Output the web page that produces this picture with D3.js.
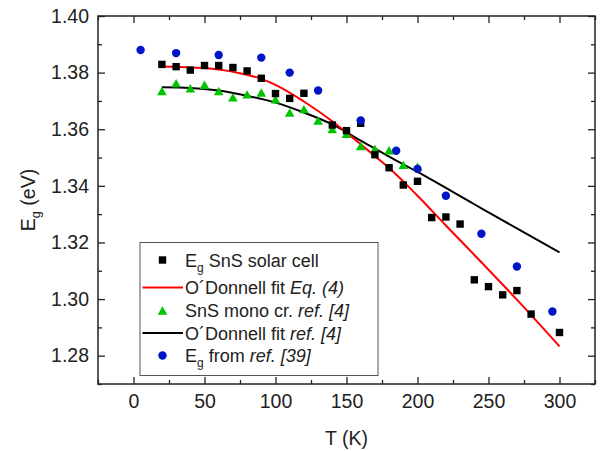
<!DOCTYPE html>
<html>
<head>
<meta charset="utf-8">
<script src="https://cdn.jsdelivr.net/npm/d3@7"></script>
<style>
  html, body { margin: 0; padding: 0; background: #fff; }
  svg { display: block; font-family: Arial, "Liberation Sans", sans-serif; }
</style>
</head>
<body>
<svg id="chart" width="600" height="451"></svg>
<script>
// Band gap of SnS versus temperature

// Solar cell measurement (black squares)
const cellT = [20, 30, 40, 50, 60, 70, 80, 90, 100, 110, 120, 140, 150, 160, 170, 180, 190, 200, 210, 220, 230, 240, 250, 260, 270, 280, 300];
const cellE = [1.3829, 1.3821, 1.3809, 1.3825, 1.3825, 1.3818, 1.3806, 1.3780, 1.3726, 1.3709, 1.3727, 1.3615, 1.3595, 1.3621, 1.3510, 1.3464, 1.3403, 1.3416, 1.3288, 1.3290, 1.3265, 1.3068, 1.3044, 1.3015, 1.3030, 1.2947, 1.2882];

// O'Donnell fit of the solar cell data, Eq. (4)
const fitCellT = [20, 40, 60, 75, 90, 100, 120, 140, 150, 160, 170, 180, 200, 220, 245, 270, 300];
const fitCellE = [1.3822, 1.3818, 1.3811, 1.3798, 1.3778, 1.3757, 1.3698, 1.3628, 1.3588, 1.3547, 1.3505, 1.3463, 1.3365, 1.3260, 1.3130, 1.2998, 1.2833];

// SnS mono crystal, ref. [4] (green triangles)
const monoT = [20, 30, 40, 50, 60, 70, 80, 90, 100, 110, 120, 130, 140, 150, 160, 170, 180, 190, 200];
const monoE = [1.3735, 1.3763, 1.3745, 1.3757, 1.3735, 1.3713, 1.3723, 1.3730, 1.3706, 1.3659, 1.3671, 1.3631, 1.3601, 1.3584, 1.3541, 1.3530, 1.3526, 1.3474, 1.3468];

// O'Donnell fit from ref. [4]
const fitMonoT = [20, 40, 60, 80, 100, 120, 140, 160, 180, 200, 240, 260, 300];
const fitMonoE = [1.3748, 1.3746, 1.3737, 1.3718, 1.3694, 1.3659, 1.3617, 1.3560, 1.3503, 1.3449, 1.3335, 1.3278, 1.3165];

// Band gap from ref. [39] (blue circles)
const ref39T = [5, 30, 60, 90, 110, 130, 160, 185, 200, 220, 245, 270, 295];
const ref39E = [1.3880, 1.3869, 1.3862, 1.3853, 1.3800, 1.3737, 1.3631, 1.3524, 1.3460, 1.3365, 1.3231, 1.3115, 1.2956];

const xTicks = [0, 50, 100, 150, 200, 250, 300];
const xMinor = [-25, 25, 75, 125, 175, 225, 275, 325];
const yTicks = [1.28, 1.30, 1.32, 1.34, 1.36, 1.38, 1.40];
const yMinor = [1.27, 1.29, 1.31, 1.33, 1.35, 1.37, 1.39];

const svg = d3.select("#chart");
const plotLeft = 98, plotRight = 595, plotTop = 16, plotBottom = 384;

const x = d3.scaleLinear().domain([-25, 325]).range([plotLeft, plotRight]);
const y = d3.scaleLinear().domain([1.27, 1.40]).range([plotBottom, plotTop]);

const ink = "#222";
const fontSize = 19.5;

// Axes: ticks point inward on all four sides
function styleAxis(g) {
  g.select(".domain").remove();
  g.selectAll(".tick line").attr("stroke", ink).attr("stroke-width", 1.3);
  g.selectAll(".tick text").attr("fill", ink).attr("font-size", fontSize).attr("font-family", "Arial, 'Liberation Sans', sans-serif");
}

svg.append("g").attr("transform", `translate(0,${plotBottom})`)
  .call(d3.axisBottom(x).tickValues(xTicks).tickFormat(d3.format("d")).tickSize(-7).tickPadding(10))
  .call(styleAxis);
svg.append("g").attr("transform", `translate(0,${plotBottom})`)
  .call(d3.axisBottom(x).tickValues(xMinor).tickFormat("").tickSize(-4))
  .call(styleAxis);
svg.append("g").attr("transform", `translate(0,${plotTop})`)
  .call(d3.axisTop(x).tickValues(xTicks).tickFormat("").tickSize(-7))
  .call(styleAxis);
svg.append("g").attr("transform", `translate(0,${plotTop})`)
  .call(d3.axisTop(x).tickValues(xMinor).tickFormat("").tickSize(-4))
  .call(styleAxis);

svg.append("g").attr("transform", `translate(${plotLeft},0)`)
  .call(d3.axisLeft(y).tickValues(yTicks).tickFormat(d3.format(".2f")).tickSize(-7).tickPadding(9))
  .call(styleAxis);
svg.append("g").attr("transform", `translate(${plotLeft},0)`)
  .call(d3.axisLeft(y).tickValues(yMinor).tickFormat("").tickSize(-4))
  .call(styleAxis);
svg.append("g").attr("transform", `translate(${plotRight},0)`)
  .call(d3.axisRight(y).tickValues(yTicks).tickFormat("").tickSize(-7))
  .call(styleAxis);
svg.append("g").attr("transform", `translate(${plotRight},0)`)
  .call(d3.axisRight(y).tickValues(yMinor).tickFormat("").tickSize(-4))
  .call(styleAxis);

// Plot frame
svg.append("rect")
  .attr("x", plotLeft).attr("y", plotTop)
  .attr("width", plotRight - plotLeft).attr("height", plotBottom - plotTop)
  .attr("fill", "none").attr("stroke", ink).attr("stroke-width", 1.5);

// Axis titles
svg.append("text")
  .attr("x", x(150)).attr("y", 445)
  .attr("text-anchor", "middle").attr("font-size", fontSize).attr("fill", ink)
  .text("T (K)");

const yTitle = svg.append("text")
  .attr("transform", `translate(35,${(plotTop + plotBottom) / 2}) rotate(-90)`)
  .attr("text-anchor", "middle").attr("font-size", fontSize).attr("fill", ink);
yTitle.append("tspan").text("E");
yTitle.append("tspan").attr("font-size", fontSize * 0.65).attr("dy", 5).text("g");
yTitle.append("tspan").attr("dy", -5).text(" (eV)");

// Fit curves
const colRed = "#ff0000", colGreen = "#00c400", colBlue = "#0014c8";
const line = d3.line().x(d => x(d[0])).y(d => y(d[1])).curve(d3.curveMonotoneX);

const plot = svg.append("g");
plot.append("path")
  .datum(fitMonoT.map((t, i) => [t, fitMonoE[i]]))
  .attr("d", line).attr("fill", "none").attr("stroke", "#000").attr("stroke-width", 2);
plot.append("path")
  .datum(fitCellT.map((t, i) => [t, fitCellE[i]]))
  .attr("d", line).attr("fill", "none").attr("stroke", colRed).attr("stroke-width", 2);

// Markers
const sq = 7.4, triW = 9.6, triH = 8.4, rCirc = 4.2;
function triPath(cx, cy) {
  return `M${cx},${cy - triH / 2}L${cx + triW / 2},${cy + triH / 2}L${cx - triW / 2},${cy + triH / 2}Z`;
}

plot.selectAll("path.mono").data(monoT.map((t, i) => [t, monoE[i]])).join("path")
  .attr("class", "mono")
  .attr("d", d => triPath(x(d[0]), y(d[1])))
  .attr("fill", colGreen);

plot.selectAll("rect.cell").data(cellT.map((t, i) => [t, cellE[i]])).join("rect")
  .attr("class", "cell")
  .attr("x", d => x(d[0]) - sq / 2).attr("y", d => y(d[1]) - sq / 2)
  .attr("width", sq).attr("height", sq)
  .attr("fill", "#000");

plot.selectAll("circle.ref39").data(ref39T.map((t, i) => [t, ref39E[i]])).join("circle")
  .attr("class", "ref39")
  .attr("cx", d => x(d[0])).attr("cy", d => y(d[1])).attr("r", rCirc)
  .attr("fill", colBlue);

// Legend
const lg = svg.append("g");
lg.append("rect")
  .attr("x", 140).attr("y", 242.5).attr("width", 238).attr("height", 133)
  .attr("fill", "#fff").attr("stroke", "#555").attr("stroke-width", 1);

const legendRows = [
  { kind: "square", y: 260,   parts: [["E", ""], ["g", "sub"], [" SnS solar cell", ""]] },
  { kind: "redline", y: 287.5, parts: [["O´Donnell fit ", ""], ["Eq. (4)", "it"]] },
  { kind: "triangle", y: 310.5, parts: [["SnS mono cr. ", ""], ["ref. [4]", "it"]] },
  { kind: "blackline", y: 333, parts: [["O´Donnell fit ", ""], ["ref. [4]", "it"]] },
  { kind: "circle", y: 355.5, parts: [["E", ""], ["g", "sub"], [" from ", ""], ["ref. [39]", "it"]] }
];
const symX = 162.5, textX = 185;

legendRows.forEach(row => {
  if (row.kind === "square") {
    lg.append("rect").attr("x", symX - sq / 2).attr("y", row.y - sq / 2)
      .attr("width", sq).attr("height", sq).attr("fill", "#000");
  } else if (row.kind === "triangle") {
    lg.append("path").attr("d", triPath(symX, row.y)).attr("fill", colGreen);
  } else if (row.kind === "circle") {
    lg.append("circle").attr("cx", symX).attr("cy", row.y).attr("r", rCirc).attr("fill", colBlue);
  } else {
    lg.append("line").attr("x1", 142.5).attr("x2", 183).attr("y1", row.y).attr("y2", row.y)
      .attr("stroke", row.kind === "redline" ? colRed : "#000").attr("stroke-width", 2);
  }
  const t = lg.append("text").attr("x", textX).attr("y", row.y + 6.5)
    .attr("font-size", 18).attr("fill", ink);
  let shifted = false;
  row.parts.forEach(([s, style]) => {
    const ts = t.append("tspan").text(s);
    if (style === "it") ts.attr("font-style", "italic");
    if (style === "sub") { ts.attr("font-size", 12).attr("dy", 5); shifted = true; }
    else if (shifted) { ts.attr("dy", -5); shifted = false; }
  });
});
</script>
</body>
</html>
